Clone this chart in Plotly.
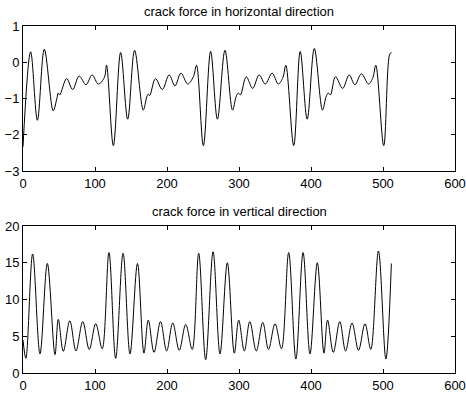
import plotly.graph_objects as go

# crack force in horizontal direction (key points: x, value)
h_x = [0, 10.6, 20, 29.6, 42, 47, 49, 51, 60.6, 69, 78, 87.5, 96, 104.6, 113, 116, 125.5,
       135.6, 145.4, 155, 167, 172, 174, 176, 184, 193.5, 203, 211, 219.4, 228.7, 236.6, 241, 250.5,
       260.6, 270, 280.5, 291, 296, 299, 302, 310, 319, 328, 336.5, 346, 354.6, 361, 365, 376,
       385, 394.7, 404.6, 416, 421, 424, 427, 434, 444, 453, 461, 470, 480, 486, 490, 501, 509, 511.6]
h_y = [-2.33, 0.29, -1.6, 0.36, -1.34, -1.0, -0.85, -0.9, -0.45, -0.75, -0.38, -0.62, -0.35, -0.6, -0.42, -0.08, -2.3,
       0.27, -1.57, 0.33, -1.32, -0.95, -0.88, -0.92, -0.45, -0.75, -0.35, -0.65, -0.3, -0.6, -0.4, -0.08, -2.3,
       0.3, -1.57, 0.33, -1.32, -0.95, -0.85, -0.9, -0.4, -0.72, -0.35, -0.6, -0.3, -0.6, -0.42, -0.08, -2.3,
       0.3, -1.57, 0.38, -1.32, -0.95, -0.85, -0.9, -0.4, -0.72, -0.35, -0.62, -0.32, -0.6, -0.42, -0.08, -2.3, 0.2, 0.28]

# crack force in vertical direction (key points: x, value)
v_x = [0, 4, 13.4, 23.6, 33.8, 44.4, 49, 56, 65, 73.6, 83, 92, 101, 110,
       119.4, 128.7, 139, 148.6, 159, 168, 174, 182, 191, 199.5, 208, 217, 226, 235,
       244, 253.7, 264, 273.6, 283.8, 293.5, 299.6, 307.4, 315, 324, 333, 341, 350, 359,
       369, 379, 389, 398.6, 408.8, 418, 423, 431, 440, 448, 457, 466, 475, 483,
       493.7, 504, 511.6]
v_y = [4.5, 2.0, 16.2, 2.6, 14.9, 2.5, 7.3, 2.95, 7.1, 3.0, 7.0, 3.2, 6.7, 3.3,
       16.4, 2.0, 16.3, 2.6, 14.9, 2.7, 7.2, 2.8, 7.0, 3.0, 6.8, 3.1, 6.6, 3.2,
       16.3, 1.8, 16.5, 2.6, 15.0, 2.7, 7.2, 3.0, 7.0, 3.0, 6.9, 3.2, 6.7, 3.3,
       16.4, 1.9, 16.4, 2.6, 15.0, 2.7, 7.2, 2.8, 7.0, 3.0, 6.8, 3.1, 6.7, 3.2,
       16.6, 1.9, 14.9]

titles = ["crack force in horizontal direction", "crack force in vertical direction"]
x_ticks = [0, 100, 200, 300, 400, 500, 600]
h_ticks = [-3, -2, -1, 0, 1]
v_ticks = [0, 5, 10, 15, 20]

FONT = "Liberation Sans, Arial, sans-serif"

fig = go.Figure()
fig.add_trace(go.Scatter(x=h_x, y=h_y, mode="lines", line=dict(color="black", width=1, shape="spline", smoothing=1.0),
                         xaxis="x", yaxis="y", showlegend=False))
fig.add_trace(go.Scatter(x=v_x, y=v_y, mode="lines", line=dict(color="black", width=1, shape="spline", smoothing=1.0),
                         xaxis="x2", yaxis="y2", showlegend=False))

axcommon = dict(showgrid=False, zeroline=False, showline=True, linecolor="black", linewidth=1,
                mirror="ticks", ticks="inside", ticklen=4, tickcolor="black", automargin=False,
                tickfont=dict(family=FONT, size=13, color="black"))

fig.update_layout(
    width=466, height=393,
    margin=dict(l=23, r=11, t=26, b=20),
    paper_bgcolor="white", plot_bgcolor="white",
    xaxis=dict(domain=[0, 1], range=[0, 600], tickvals=x_ticks, anchor="y", **axcommon),
    yaxis=dict(domain=[0.582, 1], range=[-3, 1], tickvals=h_ticks, anchor="x", **axcommon),
    xaxis2=dict(domain=[0, 1], range=[0, 600], tickvals=x_ticks, anchor="y2", **axcommon),
    yaxis2=dict(domain=[0, 0.4236], range=[0, 20], tickvals=v_ticks, anchor="x2", **axcommon),
    annotations=[
        dict(text=titles[0], x=0.5, xref="paper", y=1, yref="paper", yshift=15, showarrow=False,
             xanchor="center", yanchor="middle", font=dict(family=FONT, size=13, color="black")),
        dict(text=titles[1], x=0.5, xref="paper", y=0.4236, yref="paper", yshift=15, showarrow=False,
             xanchor="center", yanchor="middle", font=dict(family=FONT, size=13, color="black")),
    ],
)

fig.write_html("out.html")
